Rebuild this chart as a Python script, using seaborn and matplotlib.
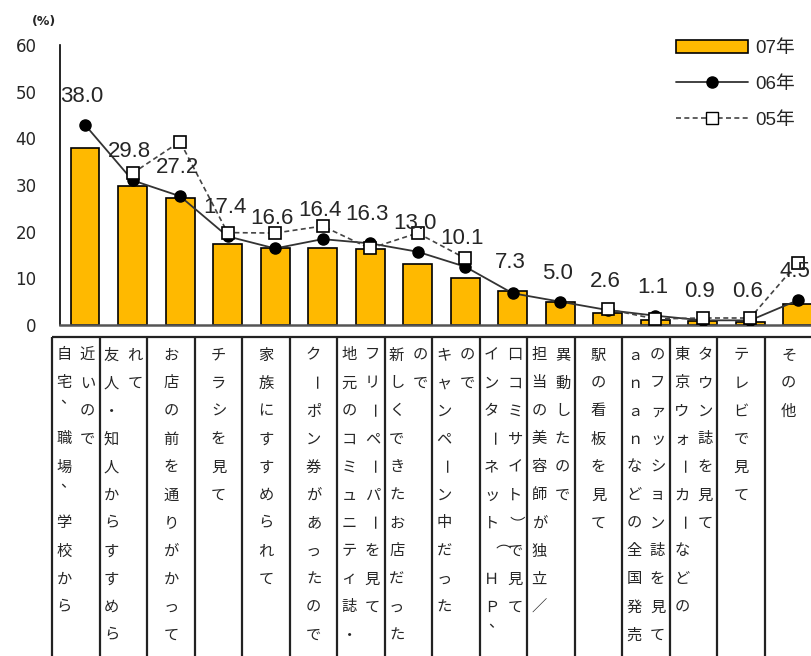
import numpy as np
import pandas as pd
import matplotlib
matplotlib.use('Agg')
import matplotlib.pyplot as plt
import matplotlib.transforms as mtransforms
from matplotlib.patches import Patch
from matplotlib.lines import Line2D
import seaborn as sns

# category labels, one string per vertical text column
labels = [
    ["自宅、職場、学校から", "近いので"],
    ["友人・知人からすすめら", "れて"],
    ["お店の前を通りがかって"],
    ["チラシを見て"],
    ["家族にすすめられて"],
    ["クーポン券があったので"],
    ["地元のコミュニティ誌・", "フリーペーパーを見て"],
    ["新しくできたお店だった", "ので"],
    ["キャンペーン中だった", "ので"],
    ["インターネット（ＨＰ、", "口コミサイト）で見て"],
    ["担当の美容師が独立／", "異動したので"],
    ["駅の看板を見て"],
    ["ａｎａｎなどの全国発売", "のファッション誌を見て"],
    ["東京ウォーカーなどの", "タウン誌を見て"],
    ["テレビで見て"],
    ["その他"],
]
v07 = [38.0, 29.8, 27.2, 17.4, 16.6, 16.4, 16.3, 13.0, 10.1, 7.3, 5.0, 2.6, 1.1, 0.9, 0.6, 4.5]
v06 = [42.9, 31.0, 27.6, 19.0, 16.4, 18.4, 17.5, 15.7, 12.5, 6.8, 5.0, 3.2, 2.0, 1.0, 1.0, 5.3]
v05 = [np.nan, 32.5, 39.3, 19.8, 19.7, 21.2, 16.4, 19.7, 14.3, np.nan, np.nan, 3.4, 1.3, 1.5, 1.5, 13.3]
series_names = ["07年", "06年", "05年"]
yticks = [0, 10, 20, 30, 40, 50, 60]

orange = "#FFB900"
num_font = ["Liberation Sans", "Noto Sans CJK JP", "DejaVu Sans"]
jp_font = ["Noto Sans CJK JP", "DejaVu Sans"]

sns.set_style("white")
plt.rcParams['font.family'] = ["DejaVu Sans", "Noto Sans CJK JP"]

W, H = 811, 656
fig = plt.figure(figsize=(W / 100, H / 100), dpi=100)
ax = fig.add_axes([60 / W, 1 - 325 / H, 1 - 60 / W, (325 - 45) / H])

n = len(v07)
x = np.arange(n)
df = pd.DataFrame({"pos": x, "v07": v07, "v06": v06, "v05": v05})

#Bars for 07
sns.barplot(data=df, x="pos", y="v07", color=orange, width=0.61,
            edgecolor="black", linewidth=1.2, saturation=1, ax=ax, zorder=2)

#Lines for 06 and 05
ax.plot(df["pos"], df["v06"], color="#333333", lw=1.3, marker="o", ms=8,
        mfc="black", mec="black", zorder=4)
ax.plot(df["pos"], df["v05"], color="#444444", lw=1.2, ls=(0, (3, 2)), marker="s", ms=9,
        mfc="white", mec="black", mew=1.2, zorder=5)

#Value labels
for i in range(n):
    top = max(v07[i], v06[i])
    ax.annotate(f"{v07[i]:.1f}", xy=(i, top), xytext=(-2, 13), textcoords="offset points",
                ha="center", va="bottom", fontsize=16, family=num_font, zorder=6)

ax.set_xlim(-0.526, 15.28)
ax.set_ylim(0, 60)
ax.set_yticks(yticks)
ax.set_yticklabels([str(t) for t in yticks])
ax.tick_params(axis="y", direction="in", length=6, width=1.2, pad=17, labelsize=12)
ax.tick_params(axis="x", bottom=False, labelbottom=False)
ax.set_xlabel("")
ax.set_ylabel("")
for s in ["top", "right"]:
    ax.spines[s].set_visible(False)
ax.spines["left"].set_color("black")
ax.spines["left"].set_linewidth(1.2)
ax.spines["bottom"].set_color("#555555")
ax.spines["bottom"].set_linewidth(1.8)

fig.text(32 / W, 1 - 22 / H, "(%)", fontsize=9, va="center", ha="left", fontweight="bold")

#Legend
handles = [
    Patch(facecolor=orange, edgecolor="black", linewidth=1.2),
    Line2D([], [], color="#333333", lw=1.3, marker="o", ms=8, mfc="black", mec="black"),
    Line2D([], [], color="#444444", lw=1.2, ls=(0, (3, 2)), marker="s", ms=9, mfc="white", mec="black"),
]
fig.legend(handles, series_names, loc="upper left", bbox_to_anchor=(676 / W, 1 - 40 / H),
           bbox_transform=fig.transFigure, frameon=False, borderpad=0, borderaxespad=0,
           handlelength=3.85, handletextpad=0.4, labelspacing=1.0,
           prop={"family": num_font, "size": 13.5})

#Label table under the chart
tr = mtransforms.blended_transform_factory(ax.transData, fig.transFigure)
table_top = 1 - 337 / H
bounds = np.arange(n + 1) - 0.69
ax.vlines(bounds, 0, table_top, transform=tr, colors="#222222", lw=1.6, clip_on=False)
ax.hlines(table_top, bounds[0], 15.6, transform=tr, colors="#222222", lw=1.6, clip_on=False)

rotate_chars = {"ー": -90, "（": -90, "）": -90}
for i, cols in enumerate(labels):
    center = i - 0.19
    if len(cols) == 1:
        xs = [center]
    else:
        xs = [center - 0.25, center + 0.24]
    for cx, col in zip(xs, cols):
        for k, ch in enumerate(col):
            yk = 1 - (355 + k * 28) / H
            if ch == "、":
                ax.text(cx + 0.08, yk + 12 / H, ch, transform=tr, ha="center", va="center",
                        fontsize=11, family=jp_font)
            else:
                ax.text(cx, yk, ch, transform=tr, ha="center", va="center",
                        rotation=rotate_chars.get(ch, 0), fontsize=11, family=jp_font)

fig.savefig("out.png", dpi=100)
